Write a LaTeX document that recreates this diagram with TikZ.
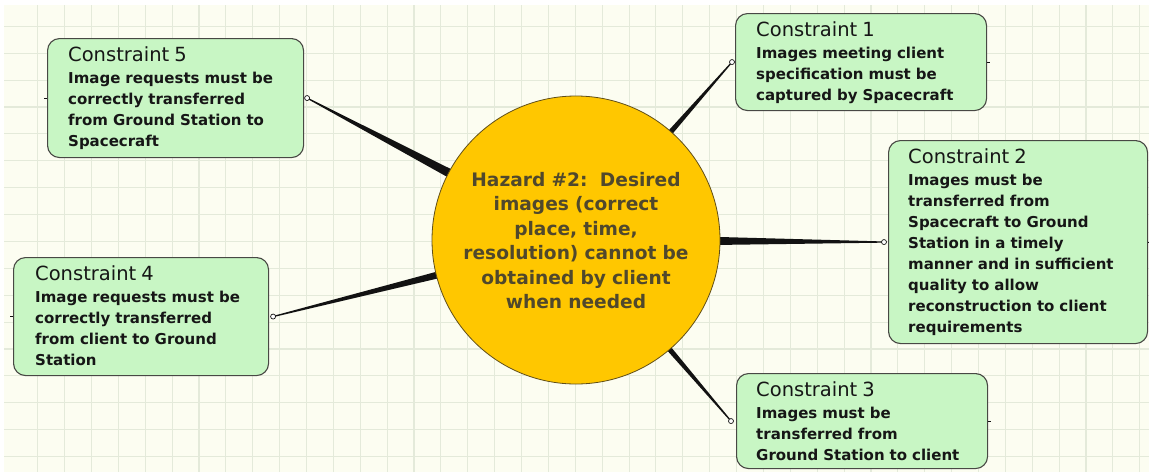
\documentclass[tikz,border=0pt]{standalone}
\usepackage{fontspec}
\setmainfont{DejaVu Sans}
\usetikzlibrary{calc,backgrounds}

\definecolor{paper}{RGB}{252,253,241}
\definecolor{gridcol}{RGB}{228,234,218}
\definecolor{boxfill}{RGB}{200,246,196}
\definecolor{boxline}{RGB}{72,72,68}
\definecolor{hazfill}{RGB}{255,199,0}
\definecolor{hazline}{RGB}{96,78,24}
\definecolor{hazText}{RGB}{80,72,44}
\definecolor{txt}{RGB}{22,22,22}
\definecolor{linkcol}{RGB}{18,18,18}

% title line of a constraint box
\newcommand\ttl[1]{\rule{0pt}{15pt}{\mdseries\fontsize{19.5}{21}\selectfont #1}}
% tapered spoke from the hazard circle to a pin
\newcommand\spoke[3]{%
  \path ($(#1.center)!132pt!(#2.center)$) coordinate (s#2);
  \fill[linkcol] ($(s#2)!#3pt!90:(#2.center)$) -- ($(#2.center)!0.6pt!-90:(s#2)$)
     -- ($(#2.center)!0.6pt!90:(s#2)$) -- ($(s#2)!#3pt!-90:(#2.center)$) -- cycle;}

\begin{document}
\begin{tikzpicture}[x=1pt,y=-1pt,
  cbox/.style={draw=boxline, fill=boxfill, line width=1.1pt, rounded corners=12pt,
               inner sep=0pt, anchor=north west},
  ctext/.style={anchor=north west, inner sep=0pt, align=left, text width=240pt,
                font=\bfseries\fontsize{15}{21}\selectfont, text=txt},
  hazard/.style={circle, draw=hazline, fill=hazfill, line width=0.8pt,
                 minimum size=288pt, inner sep=0pt},
  haztext/.style={anchor=north, inner sep=0pt, align=center, text width=280pt,
                  font=\bfseries\fontsize{18.6}{24.5}\selectfont, text=hazText},
  pin/.style={circle, draw=linkcol, fill=white, inner sep=0pt, minimum size=5pt,
              line width=0.7pt},
  stub/.style={draw=linkcol, line width=1pt},
  gridline/.style={draw=gridcol, line width=1.1pt}]
\useasboundingbox (0,0) rectangle (1149,472);

% central hazard
\node[hazard] (hz) at (576,240) {};
\node[haztext] (hzt) at (576,172) {\rule{0pt}{14pt}Hazard \#2:\ \ Desired\\ images (correct\\ place, time,\\ resolution) cannot be\\ obtained by client\\ when needed};

% constraint boxes
\node[cbox, minimum width=251pt, minimum height=97pt] (c1) at (735,13) {};
\node[ctext] (c1t) at ([xshift=21pt,yshift=-8pt]c1.north west)
  {\ttl{Constraint 1}\\[1pt] Images meeting client\\ specification must be\\ captured by Spacecraft};

\node[cbox, minimum width=259pt, minimum height=203pt] (c2) at (888,140) {};
\node[ctext] (c2t) at ([xshift=20pt,yshift=-8pt]c2.north west)
  {\ttl{Constraint 2}\\[1pt] Images must be\\ transferred from\\ Spacecraft to Ground\\ Station in a timely\\ manner and in sufficient\\ quality to allow\\ reconstruction to client\\ requirements};

\node[cbox, minimum width=251pt, minimum height=95pt] (c3) at (736,373) {};
\node[ctext] (c3t) at ([xshift=20pt,yshift=-8pt]c3.north west)
  {\ttl{Constraint 3}\\[1pt] Images must be\\ transferred from\\ Ground Station to client};

\node[cbox, minimum width=255pt, minimum height=118pt] (c4) at (13,257) {};
\node[ctext] (c4t) at ([xshift=22pt,yshift=-8pt]c4.north west)
  {\ttl{Constraint 4}\\[1pt] Image requests must be\\ correctly transferred\\ from client to Ground\\ Station};

\node[cbox, minimum width=256pt, minimum height=119pt] (c5) at (47,38) {};
\node[ctext] (c5t) at ([xshift=21pt,yshift=-8pt]c5.north west)
  {\ttl{Constraint 5}\\[1pt] Image requests must be\\ correctly transferred\\ from Ground Station to\\ Spacecraft};

% pins where the spokes meet the boxes
\node[pin] (p1) at ([xshift=-3pt]c1.west) {};
\node[pin] (p2) at ([xshift=-4pt]c2.west) {};
\node[pin] (p3) at ([xshift=-5pt]c3.west) {};
\node[pin] (p4) at ([xshift=4pt]c4.east) {};
\node[pin] (p5) at ([xshift=3pt]c5.east) {};

% short stubs on the far sides
\coordinate (e1) at ([xshift=3pt]c1.east);
\coordinate (e2) at ([xshift=3pt]c2.east);
\coordinate (e3) at ([xshift=3pt]c3.east);
\coordinate (e4) at ([xshift=-3pt]c4.west);
\coordinate (e5) at ([xshift=-3pt]c5.west);
\draw[stub] (c1.east) -- (e1);
\draw[stub] (c2.east) -- (e2);
\draw[stub] (c3.east) -- (e3);
\draw[stub] (c4.west) -- (e4);
\draw[stub] (c5.west) -- (e5);

\begin{pgfonlayer}{background}
  \fill[white] (0,0) rectangle (1149,472);
  \fill[paper] (4,5) rectangle (1149,472);
  \foreach \i in {0,...,41} {\draw[gridline] (37.7+26.88*\i,5) -- (37.7+26.88*\i,472);}
  \foreach \j in {0,...,16} {\draw[gridline] (4,26.4+26.88*\j) -- (1149,26.4+26.88*\j);}
  \spoke{hz}{p1}{2.8}
  \spoke{hz}{p2}{4.2}
  \spoke{hz}{p3}{2.8}
  \spoke{hz}{p4}{3.6}
  \spoke{hz}{p5}{4.6}
\end{pgfonlayer}
\end{tikzpicture}
\end{document}
